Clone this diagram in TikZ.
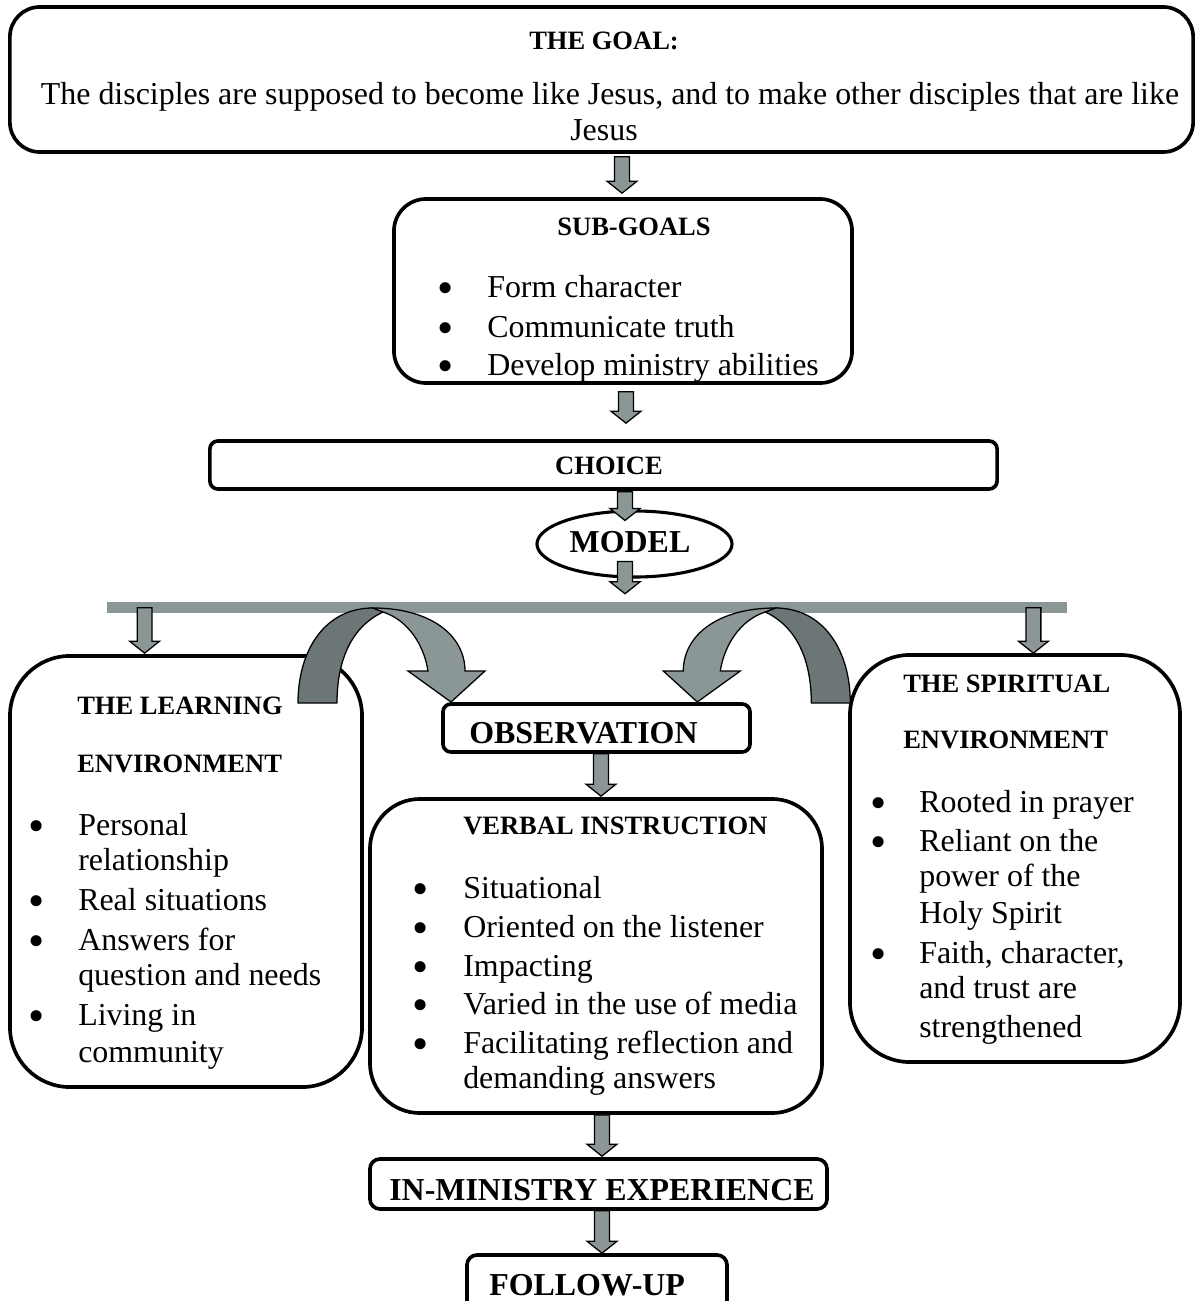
\documentclass[tikz,border=0pt]{standalone}
\usepackage{fontspec}
\setmainfont{Liberation Serif}
\usetikzlibrary{calc,shapes.geometric}
\definecolor{shaftgrey}{RGB}{139,150,150}
\definecolor{backgrey}{RGB}{108,118,118}

% enlarged list bullet
\newcommand\listdot{\scalebox{1.45}{\textbullet}}

% straight block arrow: shaft starts at #1, tip lies at the height of #2
\newcommand\blockarrow[2]{%
  \path[draw=black, line width=0.9pt, fill=shaftgrey, line join=miter]
    let \p1=#1, \p2=#2 in
    (\x1-5.3pt,\y1) -- (\x1-5.3pt,\y2+8.5pt) -- (\x1-10.7pt,\y2+8.5pt) -- (\x1,\y2)
    -- (\x1+10.7pt,\y2+8.5pt) -- (\x1+5.3pt,\y2+8.5pt) -- (\x1+5.3pt,\y1) -- cycle;}

% curved band arrow bending over from the bar down onto OBSERVATION
\newcommand\bendarrow{%
  \filldraw[fill=backgrey, draw=black, line width=0.9pt, line join=round]
    (298,703) .. controls (298,650) and (325,608) .. (373,608) -- (383,612)
    .. controls (355,625) and (337,655) .. (337,703) -- cycle;
  \filldraw[fill=shaftgrey, draw=black, line width=0.9pt, line join=miter]
    (373,608) .. controls (430,608) and (465,635) .. (465,671) -- (485,671)
    -- (451,702) -- (408,671) -- (428,671)
    .. controls (424,645) and (408,620) .. (383,612) -- cycle;}

\begin{document}
\begin{tikzpicture}[x=0.025cm, y=-0.025cm,
  box/.style={draw, line width=2.6pt, fill=white, inner sep=0pt, rectangle},
  body/.style={font=\fontsize{22.7}{26}\selectfont, inner sep=0pt},
  dot/.style={font=\fontsize{22.7}{26}\selectfont, inner sep=0pt, anchor=base},
  head/.style={font=\fontsize{18.85}{22}\selectfont\bfseries, inner sep=0pt},
  big/.style={font=\fontsize{22.7}{26}\selectfont\bfseries, inner sep=0pt}]
\useasboundingbox (0,0) rectangle (1197,1301);

% horizontal distribution bar
\node[fill=shaftgrey, inner sep=0pt, minimum width=24cm, minimum height=0.275cm] (bar) at (587,607.5) {};

% boxes
\node[box, rounded corners=0.75cm, minimum width=29.575cm, minimum height=3.625cm] (goal) at (601.5,79.5) {};
\node[box, rounded corners=0.8cm, minimum width=11.45cm, minimum height=4.6cm] (sub) at (623,291) {};
\node[box, rounded corners=0.2cm, minimum width=19.675cm, minimum height=1.2cm] (choice) at (603.5,465) {};
\node[draw, line width=2.2pt, fill=white, ellipse, inner sep=0pt, minimum width=4.875cm, minimum height=1.65cm] (model) at (634.5,544) {};
\node[box, rounded corners=1.5cm, minimum width=8.8cm, minimum height=10.775cm] (learn) at (186,871.5) {};
\node[box, rounded corners=0.2cm, minimum width=7.675cm, minimum height=1.2cm] (obs) at (596.5,728) {};
\node[box, rounded corners=1.25cm, minimum width=11.3cm, minimum height=7.85cm] (verbal) at (596,956) {};
\node[box, rounded corners=1.5cm, minimum width=8.25cm, minimum height=10.175cm] (spirit) at (1015,858.5) {};
\node[box, rounded corners=0.25cm, minimum width=11.425cm, minimum height=1.25cm] (inmin) at (598.5,1184) {};
\node[box, rounded corners=0.25cm, minimum width=6.5cm, minimum height=1.75cm] (follow) at (597,1290) {};

% straight connectors
\blockarrow{($(goal.south -| sub.north)+(-1,3)$)}{($(sub.north)+(0,-4)$)}
\blockarrow{($(sub.south)+(3,7)$)}{($(choice.north)+(0,-16)$)}
\blockarrow{($(choice.south)+(21.5,1)$)}{($(model.north)+(0,11)$)}
\blockarrow{($(model.south)+(-9.5,-17)$)}{($(bar.north)+(0,-8)$)}
\blockarrow{($(bar.north west)+(38,6)$)}{($(learn.north)+(0,-1)$)}
\blockarrow{($(bar.north east)+(-34,6)$)}{($(spirit.north)+(0,0)$)}
\blockarrow{($(obs.south)+(4.5,0)$)}{($(verbal.north)+(0,-1)$)}
\blockarrow{($(verbal.south)+(6,0)$)}{($(inmin.north)+(0,-1)$)}
\blockarrow{($(inmin.south)+(3.5,0)$)}{($(follow.north)+(0,0)$)}

% curved connectors onto OBSERVATION
\bendarrow
\begin{scope}[xshift=28.7cm, xscale=-1]
  \bendarrow
\end{scope}

% texts
\node[head, anchor=base] (goalhead) at (604,50) {THE GOAL:};
\node[body, anchor=base] (goalline) at (610,105) {The disciples are supposed to become like Jesus, and to make other disciples that are like};
\node[body, anchor=base] (goalend) at (604,140) {Jesus};

\node[head, anchor=base] (subhead) at (634,235) {SUB-GOALS};
\foreach \y/\t [count=\i] in {297/Form character, 337/Communicate truth, 375/Develop ministry abilities} {
  \node[dot] (subdot\i) at (446,\y+6.5) {\listdot};
  \node[body, anchor=base west] (subitem\i) at (487,\y) {\t};
}

\node[head, anchor=base] (choicetext) at (609,474) {CHOICE};
\node[big, anchor=base] (modeltext) at (630,552) {MODEL};

\node[head, anchor=base west] (learnhead1) at (77,714) {THE LEARNING};
\node[head, anchor=base west] (learnhead2) at (77,772) {ENVIRONMENT};
\foreach \y [count=\i] in {835,910,950,1025}
  \node[dot] (learndot\i) at (37,\y+6.5) {\listdot};
\foreach \y/\t [count=\i] in {835/Personal, 870/relationship, 910/Real situations, 950/Answers for, 985/question and needs, 1025/Living in, 1062/community}
  \node[body, anchor=base west] (learnline\i) at (78,\y) {\t};

\node[big, anchor=base west] (obstext) at (469,743) {OBSERVATION};

\node[head, anchor=base west] (verbalhead) at (463,834) {VERBAL INSTRUCTION};
\foreach \y [count=\i] in {898,937,976,1014,1053}
  \node[dot] (verbaldot\i) at (421,\y+6.5) {\listdot};
\foreach \y/\t [count=\i] in {898/Situational, 937/Oriented on the listener, 976/Impacting, 1014/Varied in the use of media, 1053/Facilitating reflection and, 1088/demanding answers}
  \node[body, anchor=base west] (verballine\i) at (463,\y) {\t};

\node[head, anchor=base west] (spirithead1) at (903,692) {THE SPIRITUAL};
\node[head, anchor=base west] (spirithead2) at (903,748) {ENVIRONMENT};
\foreach \y [count=\i] in {812,851,963}
  \node[dot] (spiritdot\i) at (879,\y+6.5) {\listdot};
\foreach \y/\t [count=\i] in {812/Rooted in prayer, 851/Reliant on the, 886/power of the, 923/Holy Spirit, 963/{Faith, character,}, 998/and trust are, 1037/strengthened}
  \node[body, anchor=base west] (spiritline\i) at (919,\y) {\t};

\node[big, anchor=base west] (inmintext) at (389,1200) {IN-MINISTRY EXPERIENCE};
\node[big, anchor=base west] (followtext) at (489,1295) {FOLLOW-UP};
\end{tikzpicture}
\end{document}
